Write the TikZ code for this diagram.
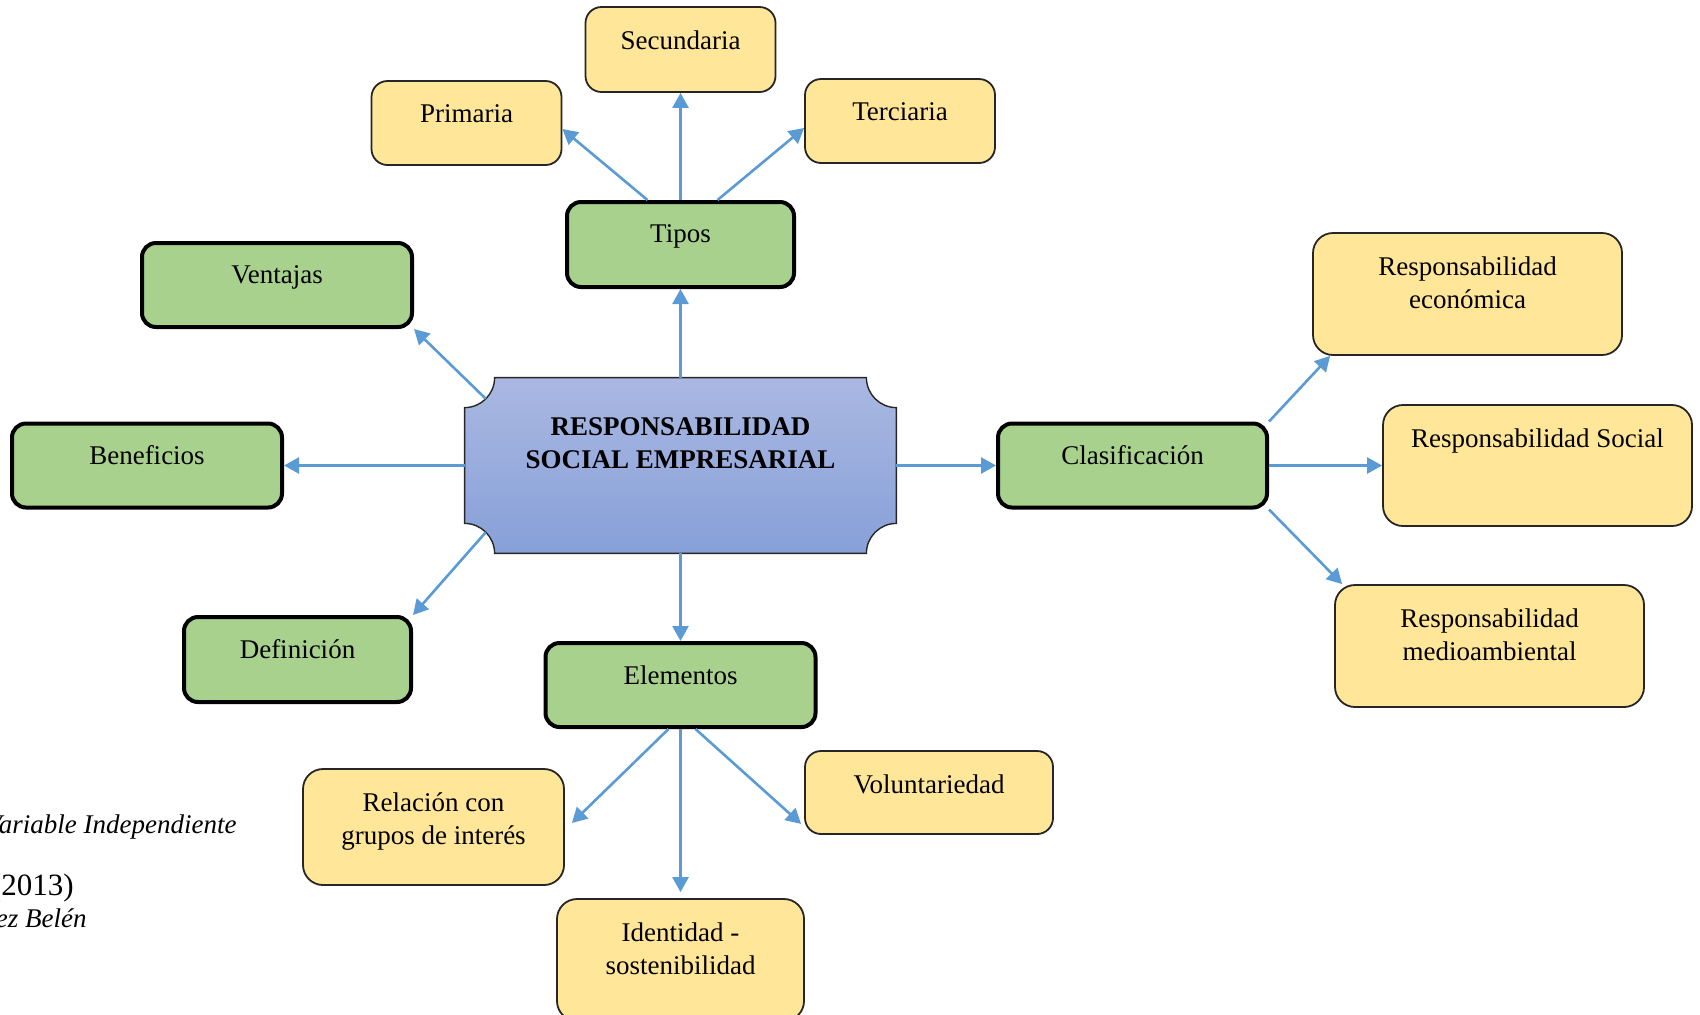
\documentclass[tikz,border=0pt]{standalone}
\usepackage{fontspec}
\setmainfont{Liberation Serif}
\usepackage{tikz}
\usetikzlibrary{arrows.meta}
\definecolor{hub}{RGB}{169,209,142}
\definecolor{leaf}{RGB}{255,230,153}
\definecolor{link}{RGB}{91,155,213}
\definecolor{coretop}{RGB}{170,184,226}
\definecolor{corebot}{RGB}{135,160,216}

\begin{document}
\begin{tikzpicture}[x=0.5pt, y=-0.5pt,
  every node/.style={font=\fontsize{13.5}{16.5}\selectfont},
  hubbox/.style={draw, line width=2pt, fill=hub, rounded corners=7pt},
  leafbox/.style={draw=black!85, line width=0.9pt, fill=leaf, rounded corners=8pt},
  txt/.style={label={[anchor=north, yshift=-12pt, inner sep=0pt, align=center]north:#1}},
  plaque/.style={draw=black!85, line width=0.7pt, top color=coretop, bottom color=corebot},
  note/.style={anchor=base east, inner sep=0pt},
  arrow/.style={-{Triangle[length=7.5pt,width=8pt]}, draw=link, line width=1.3pt}
]
\useasboundingbox (0,0) rectangle (1700,1014);
\clip (0,0) rectangle (1700,1014);

\node[minimum width=215.5pt, minimum height=87.5pt, inner sep=0pt] (rse) at (680.5,465.5) {};
\draw[plaque] ([xshift=15pt]rse.north west) -- ([xshift=-15pt]rse.north east)
  arc[start angle=180, end angle=270, radius=15pt] -- ([yshift=15pt]rse.south east)
  arc[start angle=90, end angle=180, radius=15pt] -- ([xshift=15pt]rse.south west)
  arc[start angle=0, end angle=90, radius=15pt] -- ([yshift=-15pt]rse.north west)
  arc[start angle=270, end angle=360, radius=15pt] -- cycle;
\node[anchor=north, inner sep=0pt, align=center, font=\fontsize{13.5}{16.5}\selectfont\bfseries]
  (rse-t) at ([yshift=-20pt]rse.north) {RESPONSABILIDAD\\SOCIAL EMPRESARIAL};

\node[hubbox, minimum width=113.5pt, minimum height=42.5pt, txt=Tipos] (tipos) at (680.5,244.5) {};
\node[hubbox, minimum width=135pt, minimum height=42pt, txt=Ventajas] (ven) at (277,285) {};
\node[hubbox, minimum width=135pt, minimum height=42pt, txt=Beneficios] (ben) at (147,465.5) {};
\node[hubbox, minimum width=113.5pt, minimum height=42.5pt, txt=Definición] (def) at (297.5,659.5) {};
\node[hubbox, minimum width=134.5pt, minimum height=42pt, txt=Clasificación] (cla) at (1132.5,465.5) {};
\node[hubbox, minimum width=135pt, minimum height=42pt, txt=Elementos] (ele) at (680.5,685) {};

\node[leafbox, minimum width=95pt, minimum height=42.5pt, txt=Secundaria] (sec) at (680.5,49.5) {};
\node[leafbox, minimum width=95pt, minimum height=42pt, txt=Primaria] (pri) at (466.5,123) {};
\node[leafbox, minimum width=95pt, minimum height=42pt, txt=Terciaria] (ter) at (900,121) {};
\node[leafbox, minimum width=154.5pt, minimum height=61pt, rounded corners=10pt,
  txt={Responsabilidad\\económica}] (eco) at (1467.5,294) {};
\node[leafbox, minimum width=154.5pt, minimum height=60.5pt, rounded corners=10pt,
  txt={Responsabilidad Social}] (soc) at (1537.5,465.5) {};
\node[leafbox, minimum width=154.5pt, minimum height=61pt, rounded corners=10pt,
  txt={Responsabilidad\\medioambiental}] (med) at (1489.5,646) {};
\node[leafbox, minimum width=130.5pt, minimum height=58pt, rounded corners=10pt,
  txt={Relación con\\grupos de interés}] (rel) at (433.5,827) {};
\node[leafbox, minimum width=124pt, minimum height=41.5pt, txt=Voluntariedad] (vol) at (929,792.5) {};
\node[leafbox, minimum width=123.5pt, minimum height=61pt, rounded corners=10pt,
  txt={Identidad -\\sostenibilidad}] (ide) at (680.5,960) {};

\node[note, font=\fontsize{13.5}{16.5}\selectfont\itshape] (var) at (237,833) {Variable Independiente};
\node[note, font=\fontsize{15.5}{18}\selectfont] (yr) at (74,895) {(2013)};
\node[note, font=\fontsize{13.5}{16.5}\selectfont\itshape] (aut) at (87,927) {ez Belén};

\draw[arrow] (rse.north) -- (tipos.south);
\draw[arrow] ([shift={(10.6pt,-10.6pt)}]rse.north west) -- (ven.south east);
\draw[arrow] (rse.west) -- (ben.east);
\draw[arrow] ([shift={(10.6pt,10.6pt)}]rse.south west) -- (def.north east);
\draw[arrow] (rse.south) -- (ele.north);
\draw[arrow] (rse.east) -- (cla.west);

\draw[arrow] ([xshift=-16.5pt]tipos.north) -- ([yshift=-3pt]pri.east);
\draw[arrow] (tipos.north) -- (sec.south);
\draw[arrow] ([xshift=18.5pt]tipos.north) -- ([yshift=-3.5pt]ter.west);

\draw[arrow] (cla.north east) -- ([xshift=9pt]eco.south west);
\draw[arrow] (cla.east) -- (soc.west);
\draw[arrow] (cla.south east) -- ([xshift=4pt]med.north west);

\draw[arrow] ([xshift=-6pt]ele.south) -- ([shift={(3.5pt,2pt)}]rel.east);
\draw[arrow] (ele.south) -- ([yshift=3pt]ide.north);
\draw[arrow] ([xshift=7.5pt]ele.south) -- ([shift={(-1.5pt,5.5pt)}]vol.south west);
\end{tikzpicture}
\end{document}
